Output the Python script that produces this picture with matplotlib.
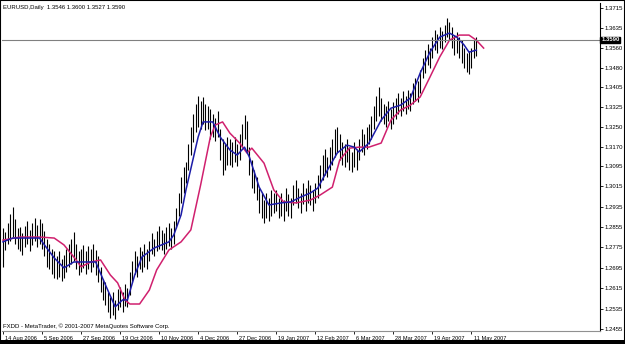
import numpy as np
import matplotlib
matplotlib.use("Agg")
import matplotlib.pyplot as plt
from matplotlib.patches import Rectangle

# daily bars, EURUSD 14 Aug 2006 .. mid May 2007
highs = [
    1.2850, 1.2835, 1.2870, 1.2905, 1.2935, 1.2885, 1.2850, 1.2855, 1.2830, 1.2860,
    1.2880, 1.2845, 1.2870, 1.2890, 1.2865, 1.2885, 1.2870, 1.2840, 1.2810, 1.2790,
    1.2770, 1.2760, 1.2740, 1.2760, 1.2730, 1.2745, 1.2770, 1.2790, 1.2810, 1.2835,
    1.2790, 1.2760, 1.2770, 1.2785, 1.2760, 1.2780, 1.2770, 1.2790, 1.2765, 1.2740,
    1.2700, 1.2650, 1.2640, 1.2600, 1.2580, 1.2600, 1.2570, 1.2610, 1.2620, 1.2600,
    1.2630, 1.2615, 1.2680, 1.2720, 1.2760, 1.2740, 1.2775, 1.2760, 1.2790, 1.2770,
    1.2800, 1.2830, 1.2810, 1.2840, 1.2860, 1.2845, 1.2830, 1.2855, 1.2870, 1.2850,
    1.2880, 1.2930, 1.2990, 1.3050, 1.3090, 1.3110, 1.3180, 1.3250, 1.3300, 1.3340,
    1.3370, 1.3350, 1.3365, 1.3340, 1.3330, 1.3320, 1.3300, 1.3285, 1.3310, 1.3240,
    1.3200, 1.3180, 1.3210, 1.3200, 1.3190, 1.3210, 1.3180, 1.3220, 1.3260, 1.3295,
    1.3270, 1.3170, 1.3120, 1.3080, 1.3050, 1.3010, 1.2990, 1.2960, 1.2990, 1.2970,
    1.3000, 1.2990, 1.3000, 1.2970, 1.2990, 1.2960, 1.3010, 1.2985, 1.2970, 1.3020,
    1.3040, 1.3010, 1.2990, 1.3030, 1.3010, 1.3040, 1.3020, 1.3000, 1.3030, 1.3060,
    1.3100, 1.3140, 1.3160, 1.3130, 1.3170, 1.3200, 1.3240, 1.3250, 1.3220, 1.3190,
    1.3180, 1.3200, 1.3170, 1.3150, 1.3190, 1.3160, 1.3200, 1.3240, 1.3220, 1.3250,
    1.3260, 1.3290, 1.3330, 1.3370, 1.3405, 1.3360, 1.3340, 1.3330, 1.3350, 1.3320,
    1.3345, 1.3360, 1.3380, 1.3360, 1.3390, 1.3370, 1.3395, 1.3380, 1.3420, 1.3440,
    1.3430, 1.3470, 1.3520, 1.3550, 1.3575, 1.3560, 1.3600, 1.3630, 1.3615, 1.3640,
    1.3625, 1.3650, 1.3676, 1.3660, 1.3640, 1.3610, 1.3620, 1.3600, 1.3590, 1.3560,
    1.3540, 1.3545, 1.3560, 1.3590, 1.3600,
]
lows = [
    1.2700, 1.2765, 1.2790, 1.2800, 1.2815, 1.2790, 1.2770, 1.2760, 1.2745, 1.2775,
    1.2790, 1.2760, 1.2785, 1.2800, 1.2775, 1.2790, 1.2770, 1.2740, 1.2700, 1.2690,
    1.2670, 1.2655, 1.2650, 1.2660, 1.2645, 1.2655, 1.2680, 1.2700, 1.2710, 1.2720,
    1.2690, 1.2665, 1.2680, 1.2695, 1.2670, 1.2690, 1.2680, 1.2700, 1.2665, 1.2640,
    1.2600, 1.2570, 1.2550, 1.2520, 1.2500, 1.2510, 1.2495, 1.2530, 1.2540, 1.2520,
    1.2545, 1.2540, 1.2590, 1.2640, 1.2670, 1.2660, 1.2690, 1.2680, 1.2700, 1.2690,
    1.2720, 1.2750, 1.2740, 1.2760, 1.2770, 1.2765, 1.2750, 1.2770, 1.2780, 1.2770,
    1.2790, 1.2850, 1.2900, 1.2950, 1.2990, 1.3030, 1.3080, 1.3140, 1.3190, 1.3230,
    1.3250, 1.3240, 1.3260, 1.3235, 1.3240, 1.3200, 1.3210, 1.3195, 1.3210, 1.3120,
    1.3060, 1.3080, 1.3100, 1.3100, 1.3090, 1.3110, 1.3095, 1.3120, 1.3170, 1.3200,
    1.3150, 1.3060, 1.3010, 1.2990, 1.2960, 1.2910, 1.2890, 1.2870, 1.2890, 1.2880,
    1.2900, 1.2910, 1.2920, 1.2890, 1.2900, 1.2880, 1.2920, 1.2900, 1.2890, 1.2940,
    1.2950, 1.2930, 1.2910, 1.2945, 1.2920, 1.2950, 1.2940, 1.2920, 1.2950, 1.2970,
    1.3010, 1.3040, 1.3060, 1.3050, 1.3080, 1.3100, 1.3130, 1.3150, 1.3120, 1.3100,
    1.3090, 1.3110, 1.3080, 1.3070, 1.3090, 1.3080, 1.3120, 1.3150, 1.3140, 1.3160,
    1.3180, 1.3200, 1.3240, 1.3270, 1.3290, 1.3270, 1.3260, 1.3250, 1.3270, 1.3240,
    1.3260, 1.3280, 1.3300, 1.3290, 1.3310, 1.3300, 1.3320, 1.3310, 1.3340, 1.3350,
    1.3345, 1.3380, 1.3440, 1.3460, 1.3490, 1.3480, 1.3520, 1.3550, 1.3540, 1.3560,
    1.3555, 1.3580, 1.3600, 1.3590, 1.3560, 1.3530, 1.3540, 1.3520, 1.3500, 1.3480,
    1.3465, 1.3455, 1.3480, 1.3520, 1.3527,
]

# fast moving average (blue), sampled at bar numbers
blue_bar = [0, 4, 15, 17, 21, 25, 29, 38, 42, 46, 49, 51, 54, 57, 62, 68, 70, 73, 75,
            80, 82, 86, 89, 93, 96, 99, 101, 105, 109, 114, 118, 122, 126, 129, 133,
            137, 141, 144, 146, 150, 155, 159, 163, 167, 171, 175, 179, 183, 186, 189,
            191, 194]
blue_val = [1.2797, 1.2812, 1.2812, 1.2785, 1.2734, 1.2695, 1.2718, 1.2718, 1.2628,
            1.2542, 1.2569, 1.2569, 1.2667, 1.2738, 1.2773, 1.2797, 1.2824, 1.2903,
            1.3001, 1.3209, 1.3268, 1.3268, 1.3209, 1.3158, 1.3138, 1.3169, 1.3130,
            1.3012, 1.2942, 1.2950, 1.2954, 1.2973, 1.2989, 1.3008, 1.3079, 1.3146,
            1.3177, 1.3169, 1.3150, 1.3185, 1.3275, 1.3322, 1.3334, 1.3362, 1.3460,
            1.3542, 1.3601, 1.3617, 1.3601, 1.3570, 1.3542, 1.3550]

# slow shifted moving average (magenta)
pink_bar = [0, 7, 15, 21, 25, 30, 32, 36, 40, 44, 47, 50, 52, 56, 60, 63, 68, 73, 77,
            81, 85, 87, 90, 93, 97, 100, 102, 107, 111, 115, 120, 126, 130, 135, 138,
            142, 146, 150, 155, 159, 163, 167, 171, 175, 179, 183, 187, 191, 194, 197]
pink_val = [1.2804, 1.2816, 1.2816, 1.2812, 1.2785, 1.2726, 1.2699, 1.2718, 1.2726,
            1.2667, 1.2636, 1.2569, 1.2553, 1.2553, 1.2608, 1.2687, 1.2765, 1.2797,
            1.2844, 1.3020, 1.3209, 1.3256, 1.3268, 1.3224, 1.3185, 1.3146, 1.3165,
            1.3106, 1.3001, 1.2954, 1.2950, 1.2961, 1.2981, 1.3012, 1.3118, 1.3165,
            1.3169, 1.3169, 1.3185, 1.3275, 1.3315, 1.3334, 1.3366, 1.3444, 1.3523,
            1.3589, 1.3609, 1.3609, 1.3589, 1.3558]

last_price = 1.3590

price_ticks = [1.3715, 1.3635, 1.3560, 1.3480, 1.3405, 1.3325, 1.3250, 1.3170, 1.3095,
               1.3015, 1.2935, 1.2855, 1.2775, 1.2695, 1.2615, 1.2535, 1.2455]
date_labels = ["14 Aug 2006", "5 Sep 2006", "27 Sep 2006", "19 Oct 2006", "10 Nov 2006",
               "4 Dec 2006", "27 Dec 2006", "19 Jan 2007", "12 Feb 2007", "6 Mar 2007",
               "28 Mar 2007", "19 Apr 2007", "11 May 2007"]
bars_per_label = 16

plt.rcParams["font.family"] = ["Liberation Sans", "DejaVu Sans"]

fig = plt.figure(figsize=(6.25, 3.44), dpi=100)
ax = fig.add_axes([2 / 625, 13 / 344, 598 / 625, 328 / 344])

x = np.arange(len(highs))
ax.vlines(x, lows, highs, color="black", linewidth=0.8)

ax.plot(pink_bar, pink_val, color="#d0206e", linewidth=1.1)
ax.plot(blue_bar, blue_val, color="#1c1ca8", linewidth=1.1)

ax.axhline(last_price, color="#808080", linewidth=0.8)

ax.set_xlim(-0.4, 244.7)
ax.set_ylim(1.2447, 1.3735)

# price scale on the right
ax.yaxis.tick_right()
ax.set_yticks(price_ticks)
ax.set_yticklabels([f"{p:.4f}" for p in price_ticks])
ax.tick_params(axis="y", direction="out", length=2, width=0.6, pad=1.5,
               labelsize=4.3, colors="black")

# date scale at the bottom, labels start right of the tick
tick_pos = np.arange(len(date_labels)) * bars_per_label
ax.set_xticks(tick_pos)
ax.set_xticklabels(date_labels, ha="left")
ax.tick_params(axis="x", direction="out", length=2.5, width=0.6, pad=1.2,
               labelsize=4.1, colors="black")
for lab in ax.get_xticklabels():
    lab.set_x(lab.get_position()[0])
import matplotlib.transforms as mtrans
offset = mtrans.ScaledTranslation(1.5 / 72, 0, fig.dpi_scale_trans)
for lab in ax.get_xticklabels():
    lab.set_transform(lab.get_transform() + offset)

for side in ["top", "left"]:
    ax.spines[side].set_visible(False)
ax.spines["right"].set_color("black")
ax.spines["right"].set_linewidth(0.8)
ax.spines["bottom"].set_color("#909090")
ax.spines["bottom"].set_linewidth(0.8)

# last price marker on the scale
ax.text(1.002, last_price, f"{last_price:.4f}", transform=ax.get_yaxis_transform(),
        ha="left", va="center", fontsize=4.3, color="white", fontweight="bold",
        bbox=dict(boxstyle="square,pad=0.15", facecolor="black", edgecolor="black"))

ax.text(0.002, 0.995, "EURUSD,Daily  1.3546 1.3600 1.3527 1.3590", transform=ax.transAxes,
        ha="left", va="top", fontsize=4.3, color="black")
ax.text(0.002, 0.005, "FXDD - MetaTrader, \u00a9 2001-2007 MetaQuotes Software Corp.",
        transform=ax.transAxes, ha="left", va="bottom", fontsize=4.3, color="black")

# window frame
fig.patches.append(Rectangle((0, 0), 1, 1, transform=fig.transFigure, fill=False,
                             edgecolor="black", linewidth=1.5))
fig.patches.append(Rectangle((0, 0), 1, 4 / 344, transform=fig.transFigure,
                             facecolor="black", edgecolor="none"))

fig.savefig("out.png", dpi=100, facecolor="white")
